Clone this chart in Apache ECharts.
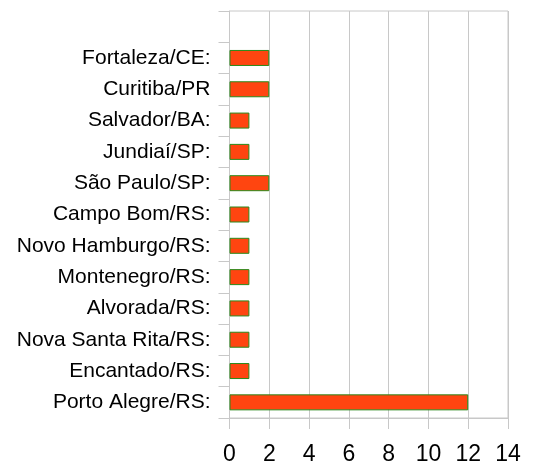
<!DOCTYPE html>
<html><head><meta charset="utf-8">
<script src="https://cdn.jsdelivr.net/npm/echarts@6/dist/echarts.min.js"></script>
<style>html,body{margin:0;padding:0;background:#fff}#c{width:540px;height:466px}</style>
</head><body><div id="c"></div>
<script>
const categories = ['', 'Fortaleza/CE:', 'Curitiba/PR', 'Salvador/BA:', 'Jundiaí/SP:', 'São Paulo/SP:', 'Campo Bom/RS:', 'Novo Hamburgo/RS:', 'Montenegro/RS:', 'Alvorada/RS:', 'Nova Santa Rita/RS:', 'Encantado/RS:', 'Porto Alegre/RS:'];
const values = [null, 2, 2, 1, 1, 2, 1, 1, 1, 1, 1, 1, 12];
const xTicks = [0, 2, 4, 6, 8, 10, 12, 14];

const chart = echarts.init(document.getElementById('c'));
chart.setOption({
  animation: false,
  grid: { left: 229.5, right: 32, top: 11, bottom: 47, show: true, borderColor: '#c8c8c8', borderWidth: 1, containLabel: false },
  xAxis: {
    type: 'value', min: xTicks[0], max: xTicks[xTicks.length - 1], interval: 2,
    axisLine: { show: true, lineStyle: { color: '#c8c8c8' } },
    axisTick: { show: true, length: 11, lineStyle: { color: '#c8c8c8' } },
    axisLabel: { color: '#000', fontSize: 23, fontFamily: 'Liberation Sans', margin: 25 },
    splitLine: { show: true, lineStyle: { color: '#c8c8c8' } }
  },
  yAxis: {
    type: 'category', data: categories, inverse: true,
    axisLine: { show: true, lineStyle: { color: '#c8c8c8' } },
    axisTick: { show: true, length: 11, alignWithLabel: false, lineStyle: { color: '#c8c8c8' } },
    axisLabel: { color: '#000', fontSize: 21, fontFamily: 'Liberation Sans', margin: 19 },
    splitLine: { show: false }
  },
  series: [{
    type: 'bar', data: values, barWidth: 16,
    itemStyle: { color: '#ff4510', borderColor: '#2a8a1a', borderWidth: 1 }
  }]
});
</script></body></html>
